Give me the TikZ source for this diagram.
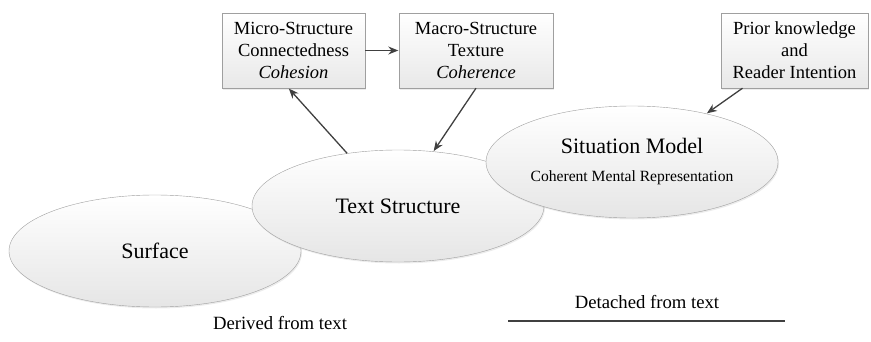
\documentclass[tikz,border=0pt]{standalone}
\usepackage{fontspec}
\IfFontExistsTF{LiberationSerif-Regular.ttf}
  {\setmainfont{LiberationSerif-Regular.ttf}[ItalicFont=LiberationSerif-Italic.ttf,BoldFont=LiberationSerif-Bold.ttf]}
  {\setmainfont{DejaVu Serif}}
\usetikzlibrary{shapes.geometric,shadows,positioning,arrows.meta}

\begin{document}
\begin{tikzpicture}[x=1pt,y=1pt,>={Stealth[length=10pt,width=8pt]},shorten >=0.5pt,
   level/.style={ellipse, draw=gray!75, top color=white, bottom color=gray!20,
      minimum width=292pt, minimum height=112pt, inner sep=0pt, align=center,
      drop shadow={opacity=0.15,shadow xshift=1pt,shadow yshift=-1.5pt},
      font=\rmfamily\fontsize{22}{26}\selectfont},
   textbox/.style={rectangle, draw=gray!75, top color=white, bottom color=gray!18,
      minimum height=75pt, inner sep=0pt, align=center,
      drop shadow={opacity=0.15,shadow xshift=1pt,shadow yshift=-1.5pt},
      font=\rmfamily\fontsize{18.5}{22}\selectfont},
   link/.style={->, color=black!75, line width=1.3pt},
   note/.style={font=\rmfamily\fontsize{18.7}{22}\selectfont}]
   \useasboundingbox (0,0) rectangle (871,341);

   % the three levels
   \node[level] (surface) at (155,90)  {Surface};
   \node[level] (textstr) at (398,135) {Text Structure};
   \node[level] (situation) at (632,179) {Situation Model\\[2pt]{\fontsize{15.6}{19}\selectfont Coherent Mental Representation}};

   % boxes on top
   \node[textbox, minimum width=143pt] (micro) at (293.5,290.5) {Micro-Structure\\Connectedness\\\textit{Cohesion}};
   \node[textbox, minimum width=154pt] (macro) at (476,290.5)   {Macro-Structure\\Texture\\\textit{Coherence}};
   \node[textbox, minimum width=147pt] (prior) at (794.5,290.5) {Prior knowledge\\and\\Reader Intention};

   \path[link]
    (micro)        edge (macro)
    (textstr.134)  edge ([xshift=-5pt]micro.south)
    (macro.south)  edge (textstr.57)
    ([xshift=-52pt]prior.south) edge (situation.33);

   % bottom notes
   \node[note] (derived)  at (280,18) {Derived from text};
   \node[note] (detached) at (647,39) {Detached from text};
   \coordinate (rule1) at (508,20);
   \coordinate (rule2) at (785,20);
   \draw[black!75, line width=1.3pt] (rule1) -- (rule2);
\end{tikzpicture}
\end{document}
